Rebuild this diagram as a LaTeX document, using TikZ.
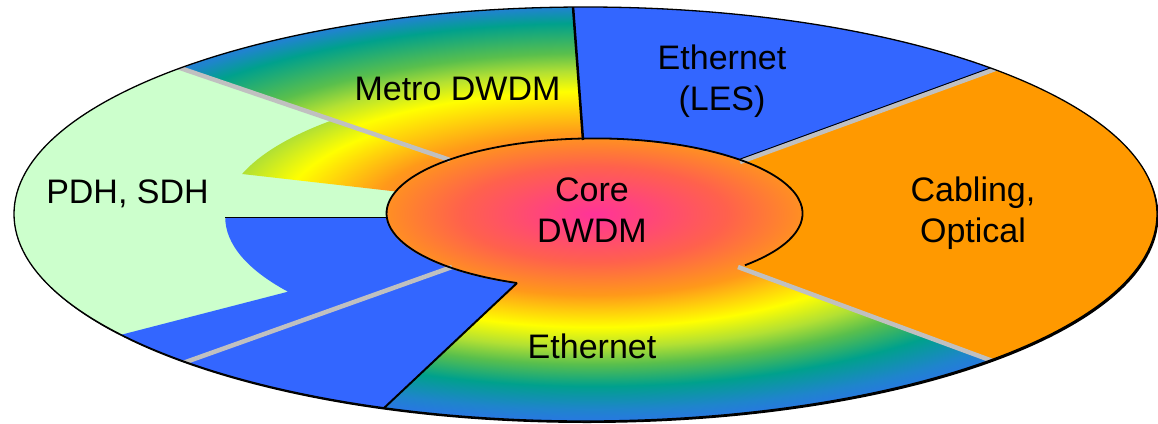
\documentclass[tikz,border=0pt]{standalone}
\usepackage{fontspec}
\setmainfont{Liberation Sans}
\usetikzlibrary{calc}
\definecolor{lesblue}{HTML}{3366FF}
\definecolor{pdhgreen}{HTML}{CCFFCC}
\definecolor{caborange}{HTML}{FF9900}
\definecolor{sepgray}{HTML}{C0C0C0}
\pgfdeclareradialshading{ringbot}{\pgfpoint{0bp}{0bp}}{rgb(0bp)=(1,0.2,0.6); rgb(4.8bp)=(1,0.38,0.3); rgb(8.1bp)=(1,0.6,0.1); rgb(11.3bp)=(1,1,0); rgb(13.3bp)=(0.7,0.88,0.2); rgb(15bp)=(0.35,0.75,0.3); rgb(17.2bp)=(0,0.63,0.55); rgb(19.5bp)=(0.12,0.52,0.8); rgb(22.3bp)=(0.2,0.4,1); rgb(40bp)=(0.2,0.4,1)}
\pgfdeclareradialshading{ringtop}{\pgfpoint{0bp}{0bp}}{rgb(0bp)=(1,0.2,0.6); rgb(4.8bp)=(1,0.38,0.3); rgb(8.1bp)=(1,0.6,0.1); rgb(12.3bp)=(1,1,0); rgb(14.3bp)=(0.7,0.88,0.2); rgb(16.1bp)=(0.35,0.75,0.3); rgb(19.1bp)=(0,0.63,0.55); rgb(20.6bp)=(0.12,0.52,0.8); rgb(22.5bp)=(0.2,0.4,1); rgb(40bp)=(0.2,0.4,1)}
\tikzset{
  lbl/.style={font=\fontsize{34}{41}\selectfont, align=center, anchor=base, inner sep=0pt},
  sepline/.style={draw=sepgray, line width=4.5},
  blackline/.style={draw=black, line width=2.5},
  hairline/.style={draw=black, line width=0.9},
  outline/.style={draw=black, line width=1.3},
}
\begin{document}
\begin{tikzpicture}[x=1pt,y=-1pt]
\useasboundingbox (0,0) rectangle (1158,423);
% key points
\coordinate (C) at (594,214);
\coordinate (tlI) at (450,160); \coordinate (tlX) at (-225,-70);
\coordinate (tbI) at (583,140); \coordinate (tbX) at (571,-20);
\coordinate (trI) at (740,162); \coordinate (trX) at (1256,-26);
\coordinate (brI) at (738,267); \coordinate (brX) at (1258,459);
\coordinate (blI) at (452,267); \coordinate (blX) at (-86,459);
\coordinate (bbI) at (517,283); \coordinate (bbX) at (341.5,448);
\coordinate (llA) at (288,291.7); \coordinate (llX) at (35,357);
\coordinate (wtip) at (242.1,174);
\coordinate (btop) at (225,217.5); \coordinate (btopI) at (388,217.5);
% shadow of the disc
\fill[black] (587,216) ellipse (571.5 and 207);
\fill[white] (585.5,214) ellipse (571.5 and 207);
\begin{scope}
  \clip (585.5,214) ellipse (571.5 and 207);
  % base gradient
  \shade[shading=ringbot] (-98,-36) rectangle (1286,464);
  % Metro DWDM sector gradient
  \begin{scope}
    \clip (tlI) -- (tlX) -- (tbX) -- (tbI) -- (C) -- cycle;
    \shade[shading=ringtop] (-98,-36) rectangle (1286,464);
  \end{scope}
  % PDH, SDH
  \fill[pdhgreen] (tlI) -- (tlX) -- (-225,500) -- (286,500) -- (bbI) -- cycle;
  % Ethernet (LES)
  \fill[lesblue] (C) -- (tbI) -- (tbX) -- (trX) -- (trI) -- cycle;
  % Cabling, Optical
  \fill[caborange] (C) -- (trI) -- (trX) -- (1300,214) -- (brX) -- (brI) -- cycle;
  % gradient wedge inside PDH
  \begin{scope}
    \clip (C) -- (wtip) arc[start angle=197.5, end angle=240, x radius=369, y radius=133] -- cycle;
    \clip (tlI) -- (tlX) -- (-225,300) -- (C) -- cycle;
    \shade[shading=ringbot] (-98,-36) rectangle (1286,464);
  \end{scope}
  % lower-left blue segment
  \fill[lesblue] (bbI) -- (bbX) -- (35,448) -- (llX) -- (llA)
    arc[start angle=146.1, end angle=180, x radius=369, y radius=133] -- (600,217.5) -- cycle;
  % core
  \begin{scope}
    \clip (C) ellipse (208 and 75);
    \shade[shading=ringbot] (-98,-36) rectangle (1286,464);
  \end{scope}
  % separators
  \draw[sepline] (tlI) -- (tlX);
  \draw[sepline] (trI) -- (trX);
  \draw[hairline] ($(trI)+(-0.86,-2.6)$) -- ($(trX)+(-0.86,-2.6)$);
  \draw[sepline] (brI) -- (brX);
  \draw[sepline] (blI) -- (blX);
  \draw[blackline] (tbI) -- (tbX);
  \draw[black, line width=2] (bbI) -- (bbX);
  \draw[hairline] (btop) -- (btopI);
\end{scope}
% core outline (open at the bottom)
\draw[outline, line width=1.8] (bbI) arc[start angle=111.9, end angle=403.7, x radius=208, y radius=75];
% disc outline
\draw[outline] (585.5,214) ellipse (571.5 and 207);
% labels (base = baseline of the last line)
\node[lbl] (metro) at (457.5,100) {Metro DWDM};
\node[lbl] (les) at (722,110) {Ethernet\\(LES)};
\node[lbl] (core) at (592,242) {Core\\DWDM};
\node[lbl] (cab) at (973,242) {Cabling,\\Optical};
\node[lbl] (pdh) at (127.5,203) {PDH, SDH};
\node[lbl] (eth) at (592,358) {Ethernet};
\end{tikzpicture}
\end{document}
